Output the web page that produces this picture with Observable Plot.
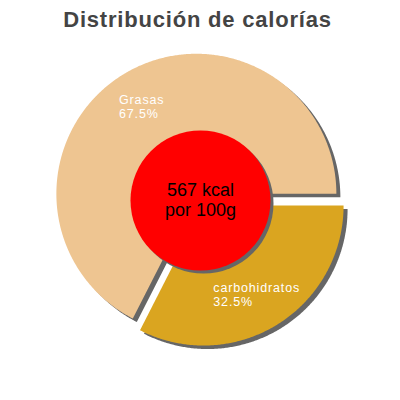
<!DOCTYPE html>
<html><head><meta charset="utf-8">
<script src="https://cdn.jsdelivr.net/npm/d3@7"></script>
<script src="https://cdn.jsdelivr.net/npm/@observablehq/plot@0.6"></script>
<style>body{margin:0;background:#fff;overflow:hidden}</style>
</head><body><div id="chart"></div>
<script>
// ---- data ----
const categories = ["Grasas", "carbohidratos"];
const percents = [67.5, 32.5];
const sliceColors = ["#EEC591", "#DAA520"];
const centerLines = ["567 kcal", "por 100g"];
const titleText = "Distribución de calorías";

// ---- layout ----
const cx = 200, cy = 200, R = 140, rHole = 70;
const explode = [7.9, 5.9];
const sdx = 4, sdy = 3.5;
const labelAnchors = [[118.5, 103.3], [212.8, 291.3]];
const labelGap = 14.2;
const labelSize = 12.5;
const font = "Liberation Sans, Arial, Helvetica, sans-serif";

// slices: carbohidratos starts at east, clockwise, then Grasas
const order = [1, 0];
let acc = 0;
const slices = [];
for (const i of order) {
  const a0 = acc / 100 * 2 * Math.PI;
  acc += percents[i];
  const a1 = acc / 100 * 2 * Math.PI;
  const mid = (a0 + a1) / 2;
  const ox = cx + explode[i] * Math.cos(mid), oy = cy + explode[i] * Math.sin(mid);
  const pts = [{x: ox, y: oy}];
  const n = Math.ceil((a1 - a0) / (Math.PI / 360));
  for (let k = 0; k <= n; k++) {
    const a = a0 + (a1 - a0) * k / n;
    pts.push({x: ox + R * Math.cos(a), y: oy + R * Math.sin(a)});
  }
  slices.push({i, pts});
}

const marks = [];
// shadows
for (const s of slices) {
  marks.push(Plot.line(s.pts, {x: d => d.x + sdx, y: d => d.y + sdy, fill: "#666666", stroke: "none"}));
}
for (const s of slices) {
  marks.push(Plot.line(s.pts, {x: "x", y: "y", fill: sliceColors[s.i], stroke: "none"}));
}
// center circle
marks.push(Plot.dot([{x: cx + 3, y: cy + 3}], {x: "x", y: "y", r: rHole, fill: "#666666", stroke: "none"}));
marks.push(Plot.dot([{x: cx, y: cy}], {x: "x", y: "y", r: rHole, fill: "#FF0000", stroke: "none"}));

// slice labels
const labelRows = [];
categories.forEach((c, i) => {
  labelRows.push({x: labelAnchors[i][0], y: labelAnchors[i][1], t: c});
  labelRows.push({x: labelAnchors[i][0], y: labelAnchors[i][1] + labelGap, t: percents[i].toFixed(1) + "%"});
});
marks.push(Plot.text(labelRows, {x: "x", y: "y", text: "t", fill: "#ffffff", fontSize: labelSize, fontFamily: font, textAnchor: "start", lineAnchor: "bottom"}));

// center text
marks.push(Plot.text(centerLines.map((t, k) => ({t, y: 195 + k * 20})), {x: () => cx, y: "y", text: "t", fill: "#000", fontSize: 18, fontFamily: font, textAnchor: "middle", lineAnchor: "bottom"}));

// title
marks.push(Plot.text([titleText], {x: () => 197, y: () => 26, text: d => d, fill: "#444444", fontSize: 22, fontWeight: "bold", fontFamily: font, textAnchor: "middle", lineAnchor: "bottom"}));

const chart = Plot.plot({
  width: 400, height: 400, margin: 0,
  x: {domain: [0, 400], range: [0, 400], axis: null},
  y: {domain: [0, 400], range: [0, 400], axis: null},
  style: {background: "#ffffff"},
  marks
});
const textGroups = chart.querySelectorAll('g[aria-label="text"]');
if (textGroups[0]) textGroups[0].style.letterSpacing = "0.85px";
if (textGroups[2]) textGroups[2].style.letterSpacing = "0.8px";
document.getElementById("chart").appendChild(chart);
</script>
</body></html>
